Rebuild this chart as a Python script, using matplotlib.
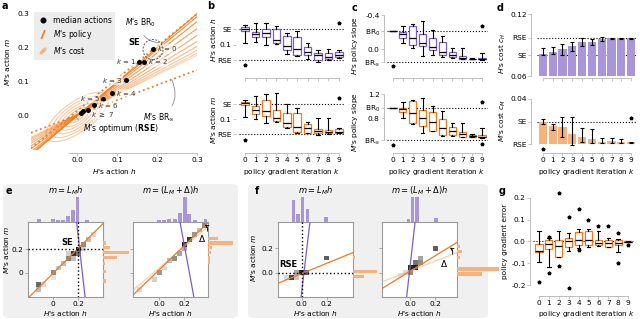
import numpy as np
import matplotlib
matplotlib.use("Agg")
import matplotlib.pyplot as plt
from matplotlib.patches import Ellipse, FancyBboxPatch
from matplotlib.lines import Line2D
from matplotlib.legend_handler import HandlerBase

plt.rcParams.update({
    "font.family": ["DejaVu Sans"],
    "font.size": 5.3,
    "mathtext.fontset": "dejavusans",
    "axes.linewidth": 0.7,
    "xtick.labelsize": 5.3, "ytick.labelsize": 5.3,
    "xtick.major.size": 2, "ytick.major.size": 2,
    "xtick.major.width": 0.6, "ytick.major.width": 0.6,
    "xtick.major.pad": 1.2, "ytick.major.pad": 1.2,
})

ORANGE = "#f07b1d"
ORANGE_L = "#f6b27c"
PURPLE = "#7e5fc6"
PURPLE_L = "#a996da"
SPINE = "#bdbdbd"
BG = "#f0f0f0"

# ------------------------------------------------------------------ data
iters = list(range(10))

# panel a
a_med_h = [0.19, 0.155, 0.168, 0.122, 0.088, 0.066, 0.042, 0.027, 0.016, 0.010]
a_med_m = [0.197, 0.159, 0.159, 0.105, 0.066, 0.050, 0.032, 0.018, 0.015, 0.010]
a_policy_slopes = [1.0, 0.97, 0.92, 0.85, 0.78, 0.72, 0.67, 0.63, 0.60, 0.58]
a_policy_point = (0.01, 0.01)
a_br0_point, a_br0_slope = (0.19, 0.195), 0.95
a_brinf_point, a_brinf_slope = (0.30, 0.135), 0.444
a_cost_semimajor = [0.012, 0.024, 0.038, 0.052, 0.067, 0.082, 0.098]
a_k_labels = ["$k$ = 0", "$k$ = 1", "$k$ = 2", "$k$ = 3", "$k$ = 4", "$k$ = 5", "$k$ = 6", r"$k$ $\geq$ 7"]
a_k_label_h = [0.200, 0.148, 0.178, 0.114, 0.097, 0.058, 0.052, 0.035]
a_k_label_m = [0.197, 0.159, 0.159, 0.105, 0.066, 0.052, 0.030, 0.004]
a_k_label_ha = ["left", "right", "left", "right", "left", "right", "left", "left"]

# panel b (equilibrium values of actions)
SE_h, RSE_h = 0.19, 0.01
SE_m, RSE_m = 0.19, 0.01
bH_lo = [0.110, 0.115, 0.099, 0.103, 0.047, 0.037, 0.018, 0.002, 0.012, 0.022]
bH_q1 = [0.180, 0.147, 0.147, 0.109, 0.070, 0.041, 0.041, 0.012, 0.018, 0.028]
bH_md = [0.192, 0.163, 0.170, 0.128, 0.093, 0.074, 0.060, 0.041, 0.031, 0.041]
bH_q3 = [0.203, 0.176, 0.190, 0.190, 0.153, 0.144, 0.089, 0.054, 0.054, 0.057]
bH_hi = [0.215, 0.228, 0.225, 0.209, 0.167, 0.182, 0.112, 0.070, 0.074, 0.070]
bH_fl = [[-0.017], [], [], [], [], [], [], [], [], [0.225]]
bM_lo = [0.116, 0.100, 0.076, 0.086, 0.046, 0.020, 0.016, 0.006, 0.010, 0.016]
bM_q1 = [0.186, 0.130, 0.120, 0.092, 0.052, 0.026, 0.020, 0.016, 0.016, 0.020]
bM_md = [0.196, 0.156, 0.152, 0.106, 0.076, 0.056, 0.046, 0.030, 0.026, 0.026]
bM_q3 = [0.206, 0.182, 0.216, 0.156, 0.136, 0.136, 0.072, 0.040, 0.036, 0.040]
bM_hi = [0.216, 0.242, 0.252, 0.260, 0.190, 0.166, 0.086, 0.106, 0.106, 0.046]
bM_fl = [[-0.024], [], [], [], [], [], [], [], [], [0.226]]

# panel c (policy slopes)
H_BR0, H_BRinf = -0.212, 0.153
M_BR0, M_BRinf = 0.977, 0.438
cH_lo = [-0.212, -0.274, -0.290, -0.333, -0.224, -0.157, -0.008, -0.008, 0.110, 0.043]
cH_q1 = [-0.212, -0.196, -0.274, -0.173, -0.126, -0.079, 0.031, 0.078, 0.114, 0.110]
cH_md = [-0.212, -0.173, -0.126, -0.074, -0.020, 0.031, 0.070, 0.100, 0.117, 0.117]
cH_q3 = [-0.212, -0.133, -0.047, -0.039, 0.012, 0.070, 0.098, 0.117, 0.120, 0.120]
cH_hi = [-0.212, -0.067, -0.016, 0.082, 0.070, 0.090, 0.110, 0.121, 0.122, 0.129]
cH_fl = [[0.20], [], [], [], [], [], [], [], [], [-0.27]]
cM_lo = [0.977, 0.800, 0.705, 0.550, 0.585, 0.510, 0.505, 0.483, 0.490, 0.480]
cM_q1 = [0.977, 0.900, 0.727, 0.672, 0.590, 0.522, 0.522, 0.494, 0.494, 0.483]
cM_md = [0.977, 0.955, 0.883, 0.810, 0.735, 0.633, 0.594, 0.533, 0.505, 0.494]
cM_q3 = [0.977, 0.977, 1.094, 0.938, 0.900, 0.783, 0.660, 0.577, 0.522, 0.522]
cM_hi = [0.977, 1.067, 1.105, 1.133, 1.000, 0.922, 0.717, 0.717, 0.533, 0.644]
cM_fl = [[0.355], [], [], [], [], [], [], [], [], [1.077, 0.365]]

# panel d (costs)
cost_H_SE, cost_H_RSE = 0.0803, 0.097
cost_M_SE, cost_M_RSE = 0.02, 0.0
dH_mean = [0.0810, 0.0829, 0.0861, 0.0893, 0.0926, 0.0932, 0.0955, 0.0965, 0.0965, 0.0966]
dH_lo = [0.0803, 0.0813, 0.0803, 0.0845, 0.0893, 0.0900, 0.0939, 0.0955, 0.0958, 0.0960]
dH_hi = [0.0868, 0.0878, 0.0910, 0.0926, 0.0965, 0.0955, 0.0975, 0.0971, 0.0971, 0.0971]
dM_mean = [0.0200, 0.0164, 0.0150, 0.0091, 0.0067, 0.0044, 0.0023, 0.0029, 0.0023, 0.0018]
dM_lo = [0.0177, 0.0126, 0.0067, -0.0006, 0.0023, 0.0009, 0.0009, 0.0014, 0.0009, 0.0009]
dM_hi = [0.0224, 0.0179, 0.0244, 0.0244, 0.0141, 0.0132, 0.0053, 0.0053, 0.0044, 0.0023]
dM_out_k = [0, 9]
dM_out_v = [-0.0042, 0.0235]

# panel g (policy gradient error)
g_lo = [-0.095, -0.117, -0.072, -0.044, -0.030, -0.023, -0.021, -0.027, -0.050, -0.004]
g_q1 = [-0.050, -0.034, -0.070, -0.023, -0.014, -0.018, -0.018, -0.027, -0.014, -0.003]
g_md = [-0.045, -0.010, -0.021, 0.000, 0.005, 0.008, -0.008, -0.008, -0.006, -0.002]
g_q3 = [-0.013, 0.005, 0.005, 0.017, 0.043, 0.047, 0.005, 0.008, 0.008, 0.000]
g_hi = [0.046, 0.017, 0.046, 0.038, 0.055, 0.055, 0.046, 0.016, 0.012, 0.002]
g_fl = [[-0.183], [0.022, -0.145], [0.223, -0.114], [0.111, -0.214], [0.146, -0.037],
        [0.096], [0.069], [0.070], [0.040, -0.099], [-0.018]]

# panels e / f : joint histograms of actions (h, m)
eL_cell_h = [-0.12, -0.12, -0.08, 0.00, 0.04, 0.00, 0.08, 0.12, 0.12, 0.16, 0.16, 0.20, 0.20, 0.24, 0.24, 0.28, 0.32]
eL_cell_m = [-0.10, -0.14, -0.10, 0.00, 0.04, -0.04, 0.08, 0.12, 0.16, 0.16, 0.12, 0.20, 0.16, 0.24, 0.20, 0.28, 0.32]
eL_cell_v = [0.65, 0.30, 0.15, 0.50, 0.25, 0.10, 0.30, 0.55, 0.20, 0.85, 0.30, 0.95, 0.60, 0.50, 0.20, 0.30, 0.15]
eL_top_h = [-0.11, 0.00, 0.04, 0.08, 0.12, 0.16, 0.195, 0.27]
eL_top_n = [3.3, 3.3, 1.7, 1.7, 5.7, 11.7, 27, 1.7]
eL_right_m = [0.25, 0.21, 0.17, 0.13, 0.08, 0.01, -0.07]
eL_right_n = [3.3, 7, 26, 14, 1.5, 3, 3]

eR_cell_h = [-0.16, -0.04, 0.00, 0.04, 0.08, 0.12, 0.16, 0.20, 0.24, 0.20, 0.28, 0.32, 0.36]
eR_cell_m = [-0.14, -0.06, 0.00, 0.04, 0.10, 0.12, 0.16, 0.24, 0.28, 0.20, 0.32, 0.36, 0.40]
eR_cell_v = [0.15, 0.20, 0.45, 0.15, 0.30, 0.50, 0.40, 0.95, 0.85, 0.35, 0.45, 0.30, 0.50]
eR_top_h = [0.00, 0.037, 0.08, 0.124, 0.168, 0.203, 0.24, 0.284, 0.37]
eR_top_n = [2, 2, 3, 3, 9, 27, 8, 2, 3]
eR_right_m = [0.29, 0.25, 0.21, 0.17, 0.125, 0.09]
eR_right_n = [10, 25, 4, 3, 2, 2]

fL_cell_h = [-0.08, -0.04, -0.04, 0.00, 0.04, -0.12, 0.20]
fL_cell_m = [-0.04, -0.04, 0.00, 0.00, 0.00, -0.04, 0.12]
fL_cell_v = [0.80, 0.25, 0.40, 0.90, 0.70, 0.15, 0.70]
fL_top_h = [-0.067, -0.032, 0.005, 0.045, 0.195]
fL_top_n = [22, 8, 27, 13, 5]
fL_right_m = [0.126, 0.008, -0.033]
fL_right_n = [2.3, 24, 10.7]

fR_cell_h = [-0.04, 0.00, 0.00, 0.04, 0.04, 0.08, 0.08, 0.20, -0.08]
fR_cell_m = [0.00, 0.00, 0.04, 0.04, 0.08, 0.08, 0.12, 0.20, -0.02]
fR_cell_v = [0.15, 0.50, 0.90, 0.95, 0.60, 0.50, 0.40, 0.70, 0.10]
fR_top_h = [-0.013, 0.019, 0.053, 0.208]
fR_top_n = [3, 27, 27, 4]
fR_right_m = [0.213, 0.172, 0.126, 0.03, -0.01]
fR_right_n = [3, 5, 3, 42, 25]

# ------------------------------------------------------------------ figure
W, H = 640, 319
fig = plt.figure(figsize=(6.4, 3.19), dpi=100)


def pax(x0, y0, x1, y1):
    return fig.add_axes([x0 / W, 1 - y1 / H, (x1 - x0) / W, (y1 - y0) / H])


def ftext(x, y, s, **kw):
    return fig.text(x / W, 1 - y / H, s, **kw)


def panel_letter(x, y, s):
    ftext(x, y, s, fontsize=7, fontweight="bold", ha="left", va="top")


def k_axis(ax, labels=True):
    ax.set_xlim(-0.6, 9.6)
    ax.set_xticks(iters)
    ax.set_xticklabels([str(k) for k in iters] if labels else [])
    for s in ["top", "right"]:
        ax.spines[s].set_visible(False)
    ax.spines["bottom"].set_bounds(0, 9)
    ax.spines["bottom"].set_color(SPINE)
    ax.spines["left"].set_color(SPINE)
    ax.spines["left"].set_position(("outward", 2))
    ax.tick_params(color=SPINE, labelcolor="black")
    ax.set_facecolor("none")


def draw_boxes(ax, lo, q1, md, q3, hi, fl, col):
    stats = [dict(whislo=a, q1=b, med=c, q3=d, whishi=e, fliers=f)
             for a, b, c, d, e, f in zip(lo, q1, md, q3, hi, fl)]
    ax.bxp(stats, positions=iters, widths=0.72, capwidths=0.34, patch_artist=True,
           manage_ticks=False,
           boxprops=dict(facecolor="white", edgecolor=col, linewidth=0.9),
           medianprops=dict(color="black", linewidth=0.9),
           whiskerprops=dict(color="black", linewidth=0.8),
           capprops=dict(color="black", linewidth=0.8),
           flierprops=dict(marker="*", markersize=2.6, markerfacecolor="black",
                           markeredgecolor="black", linestyle="none"))


def dotted_h(ax, y):
    ax.axhline(y, color="black", ls=":", lw=0.8, zorder=0.5)


# ------------------------------------------------------------------ panel a
ax = pax(31, 7, 197, 150)
ax.set_xlim(-0.115, 0.30)
ax.set_ylim(-0.10, 0.32)
ax.set_facecolor("none")
for i, a in enumerate(a_cost_semimajor):
    ax.add_patch(Ellipse((0.0, -0.003), 2 * a, 2 * a * 0.42, angle=42, fill=False,
                         ec=ORANGE_L, lw=0.7, alpha=0.8))
n = len(a_policy_slopes)
for i, s in enumerate(a_policy_slopes):
    ax.axline(a_policy_point, slope=s, color=ORANGE, lw=0.8, alpha=0.95 - 0.65 * i / (n - 1))
ax.axline(a_br0_point, slope=a_br0_slope, color=ORANGE, lw=1.3, ls=":")
ax.axline(a_brinf_point, slope=a_brinf_slope, color=ORANGE, lw=1.3, ls=":")
ax.scatter(a_med_h, a_med_m, s=13, color="black", zorder=5, linewidths=0)
for t, x, y, ha in zip(a_k_labels, a_k_label_h, a_k_label_m, a_k_label_ha):
    ax.text(x, y, t, ha=ha, va="center", fontsize=5.0, color="#333333",
            bbox=dict(boxstyle="square,pad=0.03", fc="white", ec="none", alpha=0.55), zorder=6)
ax.add_patch(Ellipse(a_br0_point, 0.05, 0.059, fill=False, ls=(0, (2, 1.5)), ec="#555555", lw=0.7, zorder=6))
ax.text(0.143, 0.215, "SE", fontweight="bold", fontsize=6, ha="center", va="center")
ax.annotate("$M$'s BR$_0$", xy=(0.205, 0.215), xytext=(0.158, 0.274), fontsize=5.5,
            ha="center", va="center",
            arrowprops=dict(arrowstyle="-", color="#888888", lw=0.6,
                            connectionstyle="arc3,rad=0.45", shrinkA=3, shrinkB=0))
ax.annotate(r"$M$'s BR$_\infty$", xy=(0.237, 0.106), xytext=(0.205, -0.005), fontsize=5.5,
            ha="center", va="center",
            arrowprops=dict(arrowstyle="-", color="#888888", lw=0.6,
                            connectionstyle="arc3,rad=0.45", shrinkA=3, shrinkB=0))
ax.annotate("$M$'s optimum (" + r"$\mathbf{RSE}$" + ")", xy=(-0.003, -0.002), xytext=(0.11, -0.037),
            fontsize=5.5, ha="center", va="center",
            arrowprops=dict(arrowstyle="-", color="#888888", lw=0.6,
                            connectionstyle="arc3,rad=-0.4", shrinkA=2, shrinkB=0))


class HandlerSlant(HandlerBase):
    def create_artists(self, legend, orig, xd, yd, w, h, fs, trans):
        x0, y0 = -xd, -yd
        return [Line2D([x0 + 0.35 * w, x0 + 0.65 * w], [y0 - 0.2 * h, y0 + 1.2 * h],
                       color=ORANGE, lw=1.2, transform=trans)]


class HandlerEll(HandlerBase):
    def create_artists(self, legend, orig, xd, yd, w, h, fs, trans):
        x0, y0 = -xd, -yd
        arts = []
        for s in [0.35, 0.7, 1.05]:
            arts.append(Ellipse((x0 + w / 2, y0 + h / 2), w * 0.8 * s, h * 0.45 * s, angle=45,
                                fill=False, ec=ORANGE_L, lw=0.7, transform=trans))
        return arts


h1 = Line2D([], [], marker="o", color="black", ls="", ms=3.3)
h2 = Line2D([], [])
h3 = Line2D([], [])
leg = ax.legend([h1, h2, h3], ["median actions", "$M$'s policy", "$M$'s cost"],
                handler_map={h2: HandlerSlant(), h3: HandlerEll()},
                loc="upper left", bbox_to_anchor=(0.02, 0.965), borderaxespad=0,
                frameon=True, fancybox=False, facecolor="#ececec", edgecolor="none",
                framealpha=1, fontsize=5.5, handlelength=1.3, handletextpad=0.6,
                labelspacing=0.45, borderpad=0.5)
for s in ["top", "right", "left"]:
    ax.spines[s].set_visible(False)
ax.spines["bottom"].set_bounds(-0.02, 0.3)
ax.spines["bottom"].set_color(SPINE)
ax.spines["bottom"].set_position(("outward", 2))
ax.set_xticks([0, 0.1, 0.2, 0.3])
ax.set_yticks([0, 0.1, 0.2, 0.3])
ax.tick_params(axis="x", color=SPINE)
ax.tick_params(axis="y", length=0)
ftext(114, 171, "$H$'s action $h$", ha="center", va="center")
ftext(8, 62, "$M$'s action $m$", ha="center", va="center", rotation=90)
panel_letter(2, 1, "a")

# ------------------------------------------------------------------ panel b
ax = pax(239, 17, 345, 78)
k_axis(ax, labels=False)
ax.set_ylim(-0.093, 0.2615)
draw_boxes(ax, bH_lo, bH_q1, bH_md, bH_q3, bH_hi, bH_fl, PURPLE)
dotted_h(ax, SE_h); dotted_h(ax, RSE_h)
ax.set_yticks([RSE_h, 0.1, SE_h]); ax.set_yticklabels(["RSE", "0.1", "SE"])
ax.spines["left"].set_visible(False)
ftext(214, 40, "$H$'s action $h$", ha="center", va="center", rotation=90)

ax = pax(239, 88, 345, 153)
k_axis(ax)
ax.set_ylim(-0.102, 0.288)
draw_boxes(ax, bM_lo, bM_q1, bM_md, bM_q3, bM_hi, bM_fl, ORANGE)
dotted_h(ax, SE_m); dotted_h(ax, RSE_m)
ax.set_yticks([RSE_m, 0.1, SE_m]); ax.set_yticklabels(["RSE", "0.1", "SE"])
ax.spines["left"].set_visible(False)
ftext(214, 120, "$M$'s action $m$", ha="center", va="center", rotation=90)
ftext(292, 172, "policy gradient iteration $k$", ha="center", va="center")
panel_letter(207, 1, "b")

# ------------------------------------------------------------------ panel c
ax = pax(387, 13, 488, 78)
k_axis(ax, labels=False)
ax.set_ylim(0.341, -0.424)
draw_boxes(ax, cH_lo, cH_q1, cH_md, cH_q3, cH_hi, cH_fl, PURPLE)
dotted_h(ax, H_BR0); dotted_h(ax, H_BRinf)
ax.set_yticks([-0.4, H_BR0, 0.0, H_BRinf])
ax.set_yticklabels(["-0.4", "BR$_0$", "0.0", r"BR$_\infty$"])
ax.spines["left"].set_bounds(-0.4, H_BRinf)
ftext(355, 45, "$H$'s policy slope", ha="center", va="center", rotation=90)

ax = pax(387, 88, 488, 153)
k_axis(ax)
ax.set_ylim(0.222, 1.305)
draw_boxes(ax, cM_lo, cM_q1, cM_md, cM_q3, cM_hi, cM_fl, ORANGE)
dotted_h(ax, M_BR0); dotted_h(ax, M_BRinf)
ax.set_yticks([1.2, M_BR0, 0.8, M_BRinf])
ax.set_yticklabels(["1.2", "BR$_0$", "0.8", r"BR$_\infty$"])
ax.spines["left"].set_bounds(M_BRinf, 1.2)
ftext(355, 122, "$M$'s policy slope", ha="center", va="center", rotation=90)
ftext(437, 172, "policy gradient iteration $k$", ha="center", va="center")
panel_letter(352, 3, "c")

# ------------------------------------------------------------------ panel d
ax = pax(537, 12, 637, 78)
k_axis(ax, labels=False)
ax.set_ylim(0.0581, 0.122)
ax.bar(iters, np.array(dH_mean) - 0.06, bottom=0.06, width=0.82, color=PURPLE_L, linewidth=0)
ax.errorbar(iters, dH_mean, yerr=[np.array(dH_mean) - np.array(dH_lo), np.array(dH_hi) - np.array(dH_mean)],
            fmt="none", ecolor="black", elinewidth=0.8, capsize=1.6, capthick=0.8)
dotted_h(ax, cost_H_SE); dotted_h(ax, cost_H_RSE)
ax.set_yticks([0.06, cost_H_SE, cost_H_RSE, 0.12])
ax.set_yticklabels(["0.06", "SE", "RSE", "0.12"])
ax.spines["left"].set_bounds(0.06, 0.12)
ax.spines["left"].set_position(("outward", 4))
ftext(503, 53, "$H$'s cost $c_H$", ha="center", va="center", rotation=90)

ax = pax(537, 88, 637, 153)
k_axis(ax)
ax.set_ylim(-0.0077, 0.0497)
ax.bar(iters, np.array(dM_mean) - cost_M_RSE, bottom=cost_M_RSE, width=0.82, color=ORANGE_L, linewidth=0)
ax.errorbar(iters, dM_mean, yerr=[np.array(dM_mean) - np.array(dM_lo), np.array(dM_hi) - np.array(dM_mean)],
            fmt="none", ecolor="black", elinewidth=0.8, capsize=1.6, capthick=0.8)
ax.plot(dM_out_k, dM_out_v, ls="none", marker="*", ms=2.6, color="black")
dotted_h(ax, cost_M_SE)
ax.set_yticks([cost_M_RSE, cost_M_SE, 0.04])
ax.set_yticklabels(["RSE", "SE", "0.04"])
ax.spines["left"].set_bounds(cost_M_RSE, 0.04)
ax.spines["left"].set_position(("outward", 4))
ftext(503, 121, "$M$'s cost $c_M$", ha="center", va="center", rotation=90)
ftext(587, 172, "policy gradient iteration $k$", ha="center", va="center")
panel_letter(497, 3, "d")

# ------------------------------------------------------------------ panel g
ax = pax(533, 190, 634, 296)
k_axis(ax)
ax.set_ylim(-0.249, 0.235)
draw_boxes(ax, g_lo, g_q1, g_md, g_q3, g_hi, g_fl, ORANGE)
dotted_h(ax, 0.0)
ax.set_yticks([-0.2, -0.1, 0.0, 0.1, 0.2])
ax.set_yticklabels(["-0.2", "-0.1", "0.0", "0.1", "0.2"])
ax.spines["left"].set_bounds(-0.2, 0.2)
ftext(505, 241, "policy gradient error", ha="center", va="center", rotation=90)
ftext(587, 314, "policy gradient iteration $k$", ha="center", va="center")
panel_letter(499, 186, "g")

# ------------------------------------------------------------------ panels e / f
for (x0, x1) in [(3, 238), (248, 488)]:
    fig.add_artist(FancyBboxPatch((x0 / W, 1 - 318 / H), (x1 - x0) / W, (318 - 184) / H,
                                  boxstyle="round,pad=0,rounding_size=0.012",
                                  transform=fig.transFigure, fc=BG, ec="none", zorder=-10))


def joint(x0, xlim, ylim, ch, cm, cv, th, tn, rm, rn, rlen, title,
          xtl, ytl=None):
    y0 = 222
    main = pax(x0, y0, x0 + 75, y0 + 75)
    main.set_xlim(xlim); main.set_ylim(ylim)
    bs = 0.04
    main.bar(ch, bs, width=bs, bottom=np.array(cm) - bs / 2,
             color=[plt.cm.Greys(0.12 + 0.83 * v) for v in cv], linewidth=0, zorder=1)
    for s in main.spines.values():
        s.set_color("#9a9a9a"); s.set_linewidth(0.8)
    main.set_xticks([0, 0.2]); main.set_xticklabels(xtl)
    main.set_yticks([0, 0.2])
    if ytl is None:
        main.set_yticklabels([])
    else:
        main.set_yticklabels(ytl)
    main.tick_params(color="#9a9a9a")
    top = pax(x0, y0 - 25, x0 + 75, y0)
    top.bar(th, tn, width=0.03, color=PURPLE_L, linewidth=0)
    top.set_xlim(xlim); top.set_ylim(0, 25)
    top.axis("off")
    right = pax(x0 + 75, y0, x0 + 75 + rlen, y0 + 75)
    right.barh(rm, rn, height=0.028, color=ORANGE_L, linewidth=0)
    right.set_ylim(ylim); right.set_xlim(0, rlen)
    right.axis("off")
    ftext(x0 + 37.5, 191, title, ha="center", va="center", fontsize=6)
    ftext(x0 + 37.5, 314, "$H$'s action $h$", ha="center", va="center")
    return main


# e left
m = joint(28, (-0.2, 0.4), (-0.205, 0.428), eL_cell_h, eL_cell_m, eL_cell_v,
          eL_top_h, eL_top_n, eL_right_m, eL_right_n, 27, "$m = L_M h$", ["0", "0.2"], ["0", "0.2"])
m.axline((0.2, 0.205), slope=1.05, color=ORANGE, lw=0.9, zorder=3)
m.axline((0.19, 0.417), (0.256, -0.2), color=PURPLE, lw=0.9, zorder=3)
m.axvline(0.2, color="black", ls=":", lw=1.0, zorder=4)
m.axhline(0.2, color="black", ls=":", lw=1.0, zorder=4)
m.text(0.11, 0.255, "SE", fontweight="bold", fontsize=6, ha="center", va="center", zorder=5)
ftext(7, 250, "$M$'s action $m$", ha="center", va="center", rotation=90)

# e right
m = joint(133, (-0.21, 0.39), (-0.205, 0.428), eR_cell_h, eR_cell_m, eR_cell_v,
          eR_top_h, eR_top_n, eR_right_m, eR_right_n, 25, r"$m = (L_M + \Delta) h$", ["0.0", "0.2"])
m.axline((-0.209, -0.146), (0.357, 0.36), color=ORANGE_L, lw=0.9, alpha=0.6, zorder=3)
m.axline((-0.209, -0.188), (0.371, 0.403), color=ORANGE, lw=0.9, zorder=3)
m.axline((0.168, 0.417), (0.276, -0.2), color=PURPLE, lw=0.9, zorder=3)
m.annotate("", xy=(0.365, 0.405), xytext=(0.385, 0.35),
           arrowprops=dict(arrowstyle="->", color="black", lw=0.6,
                           connectionstyle="arc3,rad=0.35", shrinkA=0, shrinkB=0), annotation_clip=False)
m.text(0.345, 0.29, r"$\Delta$", fontsize=6.5, ha="center", va="center", zorder=5)
panel_letter(6, 186, "e")

# f left
m = joint(278, (-0.19, 0.41), (-0.2, 0.415), fL_cell_h, fL_cell_m, fL_cell_v,
          fL_top_h, fL_top_n, fL_right_m, fL_right_n, 27, "$m = L_M h$", ["0.0", "0.2"], ["0.0", "0.2"])
m.axline((-0.19, -0.087), (0.41, 0.164), color=ORANGE, lw=0.9, zorder=3)
m.axline((-0.005, -0.197), (0.066, 0.418), color=PURPLE, lw=0.9, zorder=3)
m.axvline(0.0, color="black", ls=":", lw=1.0, zorder=4)
m.axhline(0.0, color="black", ls=":", lw=1.0, zorder=4)
m.text(-0.11, 0.063, "RSE", fontweight="bold", fontsize=6, ha="center", va="center", zorder=5)
ftext(253, 258, "$M$'s action $m$", ha="center", va="center", rotation=90)

# f right
m = joint(382, (-0.224, 0.376), (-0.2, 0.415), fR_cell_h, fR_cell_m, fR_cell_v,
          fR_top_h, fR_top_n, fR_right_m, fR_right_n, 43, r"$m = (L_M + \Delta) h$", ["0.0", "0.2"])
m.axline((-0.22, -0.074), (0.378, 0.164), color=ORANGE_L, lw=0.9, alpha=0.6, zorder=3)
m.axline((-0.22, -0.128), (0.378, 0.249), color=ORANGE, lw=0.9, zorder=3)
m.axline((-0.027, -0.2), (0.04, 0.41), color=PURPLE, lw=0.9, zorder=3)
m.annotate("", xy=(0.32, 0.205), xytext=(0.34, 0.15),
           arrowprops=dict(arrowstyle="->", color="black", lw=0.6,
                           connectionstyle="arc3,rad=0.35", shrinkA=0, shrinkB=0), annotation_clip=False)
m.text(0.272, 0.077, r"$\Delta$", fontsize=6.5, ha="center", va="center", zorder=5)
panel_letter(255, 186, "f")

fig.savefig("out.png", dpi=100)
